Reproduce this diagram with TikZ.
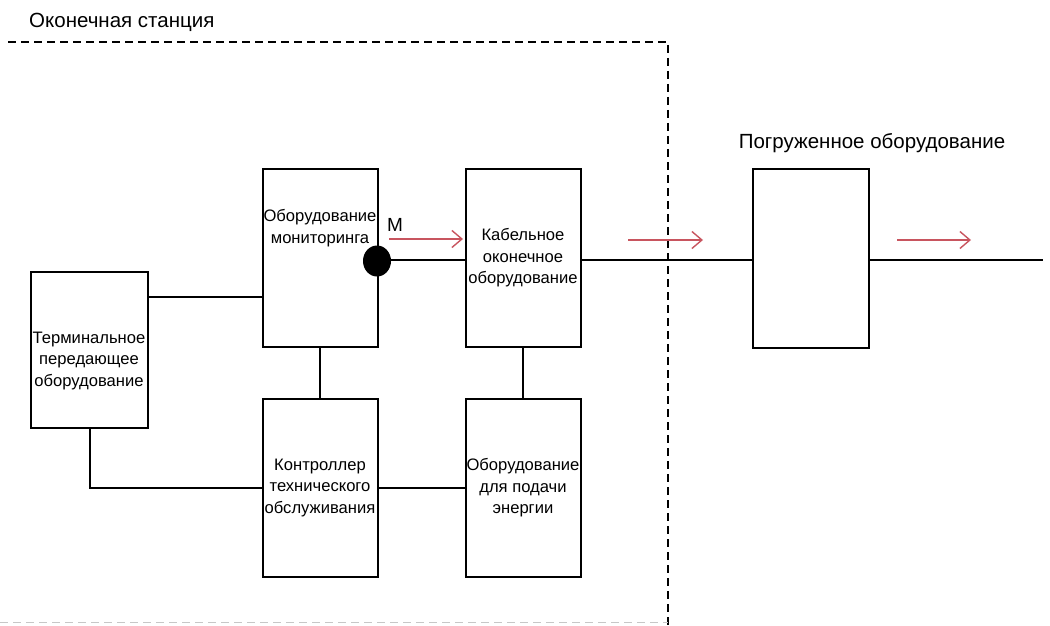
\documentclass[tikz,border=0pt]{standalone}
\usepackage{fontspec}
\setmainfont{Liberation Sans}
\usetikzlibrary{arrows.meta,shapes.geometric}
\definecolor{flowred}{RGB}{200,85,95}
\begin{document}
\begin{tikzpicture}[x=1pt,y=-1pt,
  box/.style={draw=black,line width=2pt,minimum width=115pt,minimum height=178pt,
    inner sep=0pt,align=center,font=\fontsize{16.6}{21.5}\selectfont},
  txt/.style={inner sep=0pt,align=center,font=\fontsize{16.6}{21.5}\selectfont},
  head/.style={inner sep=0pt,font=\fontsize{20.5}{23}\selectfont},
  wire/.style={line width=2pt},
  flow/.style={draw=flowred,line width=1.4pt,-{Straight Barb[length=10pt,width=17pt,line width=1.4pt]}},
  border/.style={line width=1.8pt,dash pattern=on 8pt off 5pt},
  dotm/.style={ellipse,fill=black,minimum width=28pt,minimum height=31pt,inner sep=0pt}]
\useasboundingbox (0,0) rectangle (1050,626);

% station border
\draw[border] (8,42) -- (668,42) -- (668,626);
\draw[line width=1pt,dash pattern=on 8pt off 5pt,black!22] (0,622) -- (668,622);
\node[head,anchor=west] (station) at (29,22) {Оконечная станция};
\node[head] (subhead) at (872,143) {Погруженное оборудование};

% equipment blocks
\node[box,minimum width=117pt,minimum height=156pt] (term) at (89,350) {};
\node[txt] (termT) at (89,361) {Терминальное\\передающее\\оборудование};
\node[box] (mon) at (320,258) {};
\node[txt] (monT) at (320,228) {Оборудование\\мониторинга};
\node[box] (cab) at (523,258) {Кабельное\\оконечное\\оборудование};
\node[box] (ctl) at (320,488) {Контроллер\\технического\\обслуживания};
\node[box] (pwr) at (523,488) {Оборудование\\для подачи\\энергии};
\node[box,minimum width=116pt,minimum height=179pt] (sub) at (811,258) {};

% monitoring point
\node[dotm] (M) at (377,261) {};
\node[head,font=\fontsize{19}{21}\selectfont] (Mlab) at (395,225) {M};

% links
\draw[wire] (term.east |- 0,297) -- (mon.west |- 0,297);
\draw[wire] (mon.south) -- (ctl.north);
\draw[wire] (cab.south) -- (pwr.north);
\draw[wire] (ctl.east) -- (pwr.west);
\draw[wire] (term.south -| 90,0) |- (ctl.west);
\draw[wire] (M.east |- 0,260) -- (cab.west |- 0,260);
\draw[wire] (cab.east |- 0,260) -- (sub.west |- 0,260);
\coordinate (lineEnd) at (1043,260);
\draw[wire] (sub.east |- lineEnd) -- (lineEnd);

% signal direction
\coordinate (a1s) at (389,239); \coordinate (a1e) at (463,239);
\coordinate (a2s) at (628,240); \coordinate (a2e) at (703,240);
\coordinate (a3s) at (897,240); \coordinate (a3e) at (971,240);
\draw[flow] (a1s) -- (a1e);
\draw[flow] (a2s) -- (a2e);
\draw[flow] (a3s) -- (a3e);
\end{tikzpicture}
\end{document}
